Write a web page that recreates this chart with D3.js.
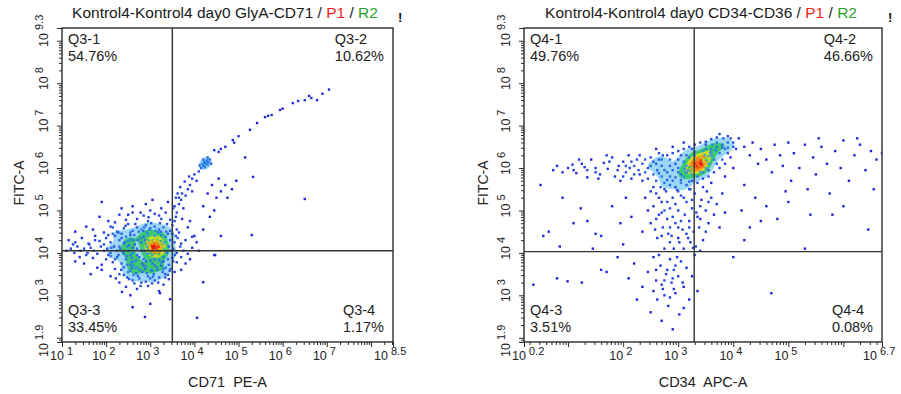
<!DOCTYPE html>
<html><head><meta charset="utf-8">
<script src="https://cdn.jsdelivr.net/npm/d3@7"></script>
<style>
body{margin:0;background:#fff;}
svg{display:block;font-family:"Liberation Sans",Arial,Helvetica,sans-serif;}
</style>
</head><body>
<svg id="c" width="901" height="394"></svg>
<script>
// ---------- DATA (all event coordinates are log10 values) ----------
const titlesMain = ["Kontrol4-Kontrol4 day0 GlyA-CD71", "Kontrol4-Kontrol4 day0 CD34-CD36"];
const gateNames = ["P1", "R2"];
const xAxisTitles = ["CD71  PE-A", "CD34  APC-A"];
const yAxisTitle = "FITC-A";

const xTicksLeft = [1, 2, 3, 4, 5, 6, 7, 8.5];
const xTicksRight = [0.2, 2, 3, 4, 5, 6.7];
const yTicks = [1.9, 3, 4, 5, 6, 7, 8, 9.3];
const xDomainLeft = [1, 8.5];
const xDomainRight = [0.2, 6.7];
const yDomain = [1.9, 9.3];

const q3Names = ["Q3-1", "Q3-2", "Q3-3", "Q3-4"];
const q3Percents = ["54.76%", "10.62%", "33.45%", "1.17%"];
const q4Names = ["Q4-1", "Q4-2", "Q4-3", "Q4-4"];
const q4Percents = ["49.76%", "46.66%", "3.51%", "0.08%"];

const q3Gate = [3.5, 4.05];   // [CD71, FITC] quadrant split
const q4Gate = [3.29, 4.03];  // [CD34, FITC] quadrant split

// GlyA-CD71 events: [CD71 PE-A, FITC-A]
const cd71Events = [
[3.0,4.1],[3.05,4.15],[3.1,4.12],[3.15,4.18],[3.2,4.1],[3.08,4.05],[3.12,4.22],[2.98,4.18],[3.18,4.25],[3.25,4.15],[3.02,4.25],[3.22,4.05],[2.95,4.08],[3.28,4.2],[3.06,4.3],[3.14,4.02],[2.92,4.15],[3.3,4.1],[3.1,3.98],[3.0,4.0],[3.16,4.32],[2.9,4.22],[3.24,4.28],[3.04,3.95],[3.2,3.97],[2.88,4.05],[3.32,4.25],[2.96,4.3],[3.12,4.08],[3.06,4.2],[3.18,4.14],[3.0,4.12],[3.26,4.08],[2.94,3.98],[3.1,4.28],[3.14,4.1],[3.08,4.16],[3.22,4.2],
[2.6,4.0],[2.7,4.1],[2.75,3.9],[2.8,4.25],[2.65,4.2],[2.85,3.85],[2.7,3.95],[2.78,4.35],[2.9,3.8],[3.0,3.82],[3.1,3.85],[3.2,3.83],[3.3,3.9],[3.38,4.0],[3.42,4.15],[3.45,4.3],[3.35,4.38],[3.25,4.42],[3.1,4.4],[2.95,4.42],[2.85,4.38],[2.72,4.3],[2.6,4.12],[2.55,3.95],[2.68,3.82],[2.82,3.75],[3.05,3.75],[3.25,3.78],[3.4,3.85],[3.48,4.05],[2.62,4.3],[2.92,4.48],[3.18,4.48],[3.4,4.45],[2.5,4.05],[2.58,3.88],[2.8,4.05],[2.88,4.3],[3.35,4.05],[3.3,3.8],
[1.3,4.5],[1.7,4.55],[1.95,4.48],[2.1,4.62],[2.25,4.5],[2.4,4.58],[2.5,4.68],[2.6,4.52],[2.7,4.6],[2.8,4.55],[2.9,4.65],[3.0,4.58],[3.1,4.62],[3.2,4.55],[3.3,4.6],[3.45,4.52],[3.5,4.65],[3.6,4.55],[2.35,4.45],[2.55,4.48],[3.38,4.68],[2.15,4.45],[1.55,4.62],[3.65,4.48],
[1.85,4.85],[2.05,4.75],[2.3,4.9],[2.45,4.78],[2.6,4.95],[2.7,4.8],[2.85,4.88],[2.95,4.75],[3.1,4.92],[3.25,4.8],[3.35,4.95],[3.45,4.78],[3.58,4.85],[3.72,4.8],[3.9,4.75],[2.2,4.72],[3.0,5.0],
[2.35,5.05],[2.6,5.1],[2.9,5.15],[3.25,5.05],[3.4,5.2],[3.55,5.1],[3.65,5.3],[1.9,5.2],[3.05,5.25],
[1.15,4.3],[1.3,4.25],[1.45,4.35],[1.6,4.22],[1.75,4.4],[1.85,4.28],[2.0,4.35],[2.1,4.25],[2.2,4.4],[2.3,4.3],[2.4,4.22],[2.45,4.38],[2.5,4.28],[3.55,4.25],[3.62,4.35],[3.7,4.22],[3.8,4.3],[3.95,4.38],[2.35,4.35],[2.05,4.42],[1.95,4.2],[2.55,4.42],
[1.1,4.05],[1.2,4.1],[1.28,4.0],[1.35,4.15],[1.42,4.05],[1.5,4.1],[1.58,4.0],[1.65,4.12],[1.72,4.05],[1.8,3.98],[1.88,4.15],[1.95,4.05],[2.02,4.1],[2.1,4.0],[2.18,4.15],[2.25,4.05],[2.32,4.1],[2.4,3.98],[2.48,4.15],[2.52,4.05],[3.52,4.1],[3.6,4.0],[3.68,4.15],[3.75,4.05],[3.85,3.98],[3.95,4.12],[4.1,4.05],[4.45,3.95],[1.62,4.2],[2.28,3.95],
[1.3,3.8],[1.5,3.75],[1.7,3.88],[1.9,3.72],[2.0,3.85],[2.15,3.78],[2.25,3.9],[2.35,3.75],[2.45,3.85],[2.55,3.72],[2.62,3.8],[3.42,3.72],[3.5,3.88],[3.6,3.78],[3.7,3.9],[3.8,3.75],[3.9,3.85],[2.1,3.92],[1.4,3.9],
[1.65,3.5],[1.9,3.6],[2.1,3.45],[2.2,3.62],[2.3,3.5],[2.4,3.66],[2.48,3.42],[2.55,3.58],[2.62,3.48],[2.7,3.65],[2.75,3.4],[2.82,3.55],[2.9,3.68],[2.95,3.45],[3.02,3.6],[3.08,3.5],[3.15,3.66],[3.2,3.42],[3.28,3.55],[3.35,3.65],[3.4,3.48],[3.55,3.55],[3.7,3.6],[2.6,3.7],[2.85,3.7],[3.1,3.7],[3.25,3.7],[2.68,3.52],[3.0,3.4],[2.5,3.55],
[2.3,3.3],[2.45,3.2],[2.6,3.35],[2.7,3.15],[2.8,3.3],[2.95,3.22],[3.1,3.35],[3.2,3.1],[3.3,3.25],[3.42,3.38],[2.36,3.08],[3.22,3.05],[2.55,3.0],
[2.6,2.72],[2.88,2.49],[3.45,2.91],[3.0,2.8],[4.06,2.47],[4.2,3.31],
[4.0,4.4],[4.2,4.55],[3.85,4.6],[4.05,4.25],[4.47,3.95],
[2.3,4.15],[2.38,4.02],[2.42,4.25],[2.46,3.92],[2.52,4.18],[2.56,4.32],[2.58,3.78],[2.64,4.42],[2.66,3.65],[2.74,4.5],[2.76,3.6],[2.84,4.52],[2.88,3.62],[2.98,4.55],[3.04,3.58],[3.12,4.52],[3.16,3.6],[3.24,4.5],[3.3,3.62],[3.36,4.5],[3.46,3.62],[3.52,3.8],[3.56,3.95],[3.58,4.4],[3.5,4.45],[2.2,3.85],[2.28,4.48],[2.12,4.12],[2.05,3.95],[2.4,3.48],[2.52,3.38],[2.64,3.28],[2.78,3.22],[2.9,3.32],[3.04,3.28],[3.18,3.3],[3.34,3.42],[2.92,3.52],[3.06,3.44],[2.72,3.46],[2.58,3.64],[2.48,3.72],[3.34,3.5],[3.44,3.58],[2.34,3.6],[2.22,3.4],[1.8,3.65],[1.55,3.95],[1.75,4.3],[1.25,4.2],[2.86,4.6],[2.66,4.68],[3.02,4.7],[3.22,4.7],[2.44,4.64],[2.96,4.84],[2.78,4.95],[3.2,4.88],[2.5,4.9],[2.15,4.6],
[3.55,4.75],[3.6,4.95],[3.52,5.05],[3.65,5.15],[3.58,5.3],[3.7,5.25],[3.72,5.4],[3.8,5.35],[3.68,5.55],[3.85,5.5],[3.9,5.6],[3.78,5.68],[3.95,5.75],[4.0,5.85],[4.05,5.7],[3.88,5.8],[4.1,5.92],[3.62,5.4],[3.75,5.05],[3.95,5.45],
[4.15,6.0],[4.2,6.05],[4.25,6.1],[4.3,6.08],[4.22,6.15],[4.28,6.18],[4.18,6.1],[4.32,6.14],[4.24,6.02],[4.35,6.2],[4.12,6.06],[4.27,6.12],[4.2,6.2],[4.38,6.1],[4.3,6.25],
[4.2,5.1],[4.35,4.85],[4.45,5.0],[4.5,5.3],[4.6,5.45],[4.7,5.6],[4.85,5.5],[4.95,5.7],[4.4,5.6],[4.55,5.75],[4.3,5.4],[4.75,5.3],
[4.45,6.42],[4.55,6.38],[4.6,6.45],[4.7,6.5],[4.87,6.66],[4.9,6.6],[5.0,6.75],[5.26,6.9],[5.42,7.06],[5.6,7.2],[5.67,7.23],[5.75,7.25],[5.94,7.37],[6.0,7.4],[6.23,7.53],[6.35,7.58],[6.5,7.6],[6.65,7.65],[6.78,7.6],[6.9,7.75],[7.05,7.85],[6.6,7.7],
[6.5,5.27],[5.33,5.79],[5.3,4.42],[5.15,6.25],[4.6,4.4]
];

// CD34-CD36 events: [CD34 APC-A, FITC-A]
const cd34Events = [
[3.3,6.05],[3.35,6.1],[3.4,6.15],[3.45,6.2],[3.25,6.0],[3.38,6.05],[3.32,6.15],[3.42,6.1],[3.5,6.22],[3.2,6.02],[3.28,6.08],[3.36,6.18],[3.46,6.14],[3.3,5.98],[3.4,6.25],[3.55,6.28],[3.18,5.95],[3.34,6.02],[3.48,6.3],[3.26,6.12],[3.6,6.3],[3.15,6.05],[3.44,6.05],[3.52,6.18],[3.38,6.22],[3.22,5.92],[3.36,5.98],[3.58,6.36],[3.12,5.98],[3.3,6.2],
[2.8,5.9],[2.9,5.95],[3.0,6.0],[3.05,5.85],[2.95,6.1],[3.1,6.15],[3.2,6.25],[3.3,6.3],[3.45,6.4],[3.6,6.45],[3.7,6.5],[3.8,6.55],[3.9,6.6],[3.65,6.2],[3.75,6.35],[3.85,6.45],[3.55,6.1],[3.5,6.0],[3.4,5.9],[3.25,5.85],[3.1,5.8],[2.95,5.78],[2.85,5.8],[2.75,5.95],[2.7,6.05],[2.85,6.05],[3.0,6.2],[3.15,6.3],[3.3,6.38],[3.5,6.45],[3.7,6.6],[3.95,6.7],[3.68,6.42],[3.62,6.55],[3.8,6.48],[2.65,5.88],[3.0,5.9],[3.15,5.9],[3.6,6.38],
[2.4,5.9],[2.5,6.05],[2.45,5.75],[2.55,6.15],[2.6,5.7],[2.62,5.95],[2.7,6.2],[2.75,5.65],[2.8,6.3],[2.85,5.6],[2.9,6.35],[2.95,5.55],[3.0,6.4],[3.05,5.65],[3.1,6.45],[3.15,5.6],[3.2,6.5],[3.25,5.7],[3.3,6.55],[3.35,5.65],[3.4,6.6],[3.45,5.75],[3.5,6.62],[3.55,5.8],[3.6,6.68],[3.65,5.9],[3.7,6.72],[3.75,6.0],[3.82,6.7],[3.85,6.1],[3.9,6.75],[3.95,6.25],[4.0,6.6],[4.05,6.45],[3.75,6.8],[2.35,6.1],[2.5,6.25],[2.65,6.35],[2.75,5.5],[3.0,5.45],[3.2,5.5],[3.45,5.55],[2.3,5.85],[2.55,5.55],[3.6,5.65],[3.85,5.8],[4.0,6.0],[3.1,6.6],[2.9,6.5],[2.6,6.45],
[2.45,6.0],[2.55,5.85],[2.6,6.1],[2.7,5.8],[2.72,6.3],[2.8,5.72],[2.9,5.7],[3.05,5.72],[3.2,5.68],[3.35,5.8],[3.45,5.9],[3.55,5.95],[3.7,6.1],[3.8,6.2],[3.9,6.35],[4.0,6.5],[3.9,6.48],[3.5,6.55],[3.25,6.45],[3.05,6.3],[2.85,6.2],[2.65,6.2],[2.4,6.2],
[0.73,5.95],[0.8,6.05],[0.9,5.9],[1.0,6.0],[1.08,6.08],[1.15,5.88],[1.25,6.1],[1.35,5.95],[1.42,6.2],[1.5,6.0],[1.58,5.85],[1.65,6.12],[1.72,5.98],[1.8,6.25],[1.85,5.8],[1.92,6.05],[2.0,6.15],[2.05,5.9],[2.1,6.3],[2.15,5.75],[2.2,6.05],[2.25,6.2],[2.28,5.95],[1.95,5.7],[1.7,6.3],[1.2,6.2],[2.12,6.0],[1.55,5.75],[2.3,6.3],[1.35,5.78],
[1.5,5.9],[1.75,6.15],[1.9,5.95],[2.05,6.05],[2.2,5.85],[1.3,6.02],[1.1,5.95],[2.15,6.15],[2.0,5.8],
[2.4,5.3],[2.55,5.1],[2.6,5.4],[2.65,4.9],[2.7,5.2],[2.72,4.6],[2.78,5.45],[2.8,4.8],[2.85,5.05],[2.88,4.4],[2.9,5.3],[2.95,4.7],[3.0,5.0],[3.02,4.25],[3.05,5.35],[3.08,4.55],[3.12,4.9],[3.15,5.2],[3.18,4.35],[3.2,4.75],[3.25,5.05],[3.28,4.5],[3.3,5.4],[3.32,4.15],[3.35,4.85],[3.38,4.6],[3.42,5.25],[3.45,4.3],[3.5,5.0],[3.55,4.7],[3.6,5.3],[3.65,4.9],[3.7,5.15],[3.75,4.6],[3.8,5.4],[3.85,4.95],[2.5,4.7],[2.45,5.0],[2.35,4.5],[2.62,4.35],[2.75,4.1],[2.92,4.1],[3.1,4.1],[3.27,4.12],[2.98,5.48],[3.22,5.5],[2.68,5.55],[3.52,5.45],[2.82,4.45],[3.0,4.6],[3.15,4.45],[3.4,4.05],[2.58,4.55],[2.7,4.95],[3.33,4.95],
[2.35,5.7],[2.5,5.45],[2.65,5.3],[2.8,5.2],[2.95,5.15],[3.1,5.3],[3.25,5.25],[3.4,5.1],[3.55,5.2],[2.75,5.0],[2.9,4.85],[3.05,4.75],[3.2,4.6],[3.4,4.8],[3.5,4.5],[2.85,4.6],[2.6,4.8],[2.7,4.4],[3.0,4.35],[3.22,4.25],[2.85,4.25],
[1.6,3.6],[1.9,3.9],[2.1,3.4],[2.2,3.75],[2.35,3.2],[2.45,3.55],[2.55,3.9],[2.6,3.35],[2.62,2.9],[2.68,3.7],[2.72,3.15],[2.78,3.5],[2.82,2.75],[2.85,3.85],[2.88,3.3],[2.92,3.6],[2.95,3.05],[3.0,3.45],[3.02,2.55],[3.05,3.8],[3.1,3.2],[3.15,3.65],[3.2,2.9],[3.25,3.45],[3.3,3.95],[2.7,2.4],[2.9,2.2],[2.5,2.6],[3.1,2.7],[2.25,2.9],[2.65,3.95],[2.75,3.35],[2.98,3.9],[2.55,3.1],[3.35,3.1],
[2.95,3.7],[2.8,3.6],[2.7,3.25],[2.6,3.6],[2.9,3.4],[3.08,3.3],[2.75,3.0],[2.85,2.95],[2.92,3.15],
[4.1,6.7],[4.2,6.5],[4.3,6.3],[4.35,6.6],[4.45,6.1],[4.5,6.45],[4.6,6.2],[4.7,5.9],[4.75,6.55],[4.85,6.3],[4.9,6.05],[5.0,6.6],[5.05,5.7],[5.1,6.35],[5.2,6.0],[5.3,6.55],[5.35,5.5],[5.45,6.25],[5.5,5.85],[5.6,6.5],[5.7,6.1],[5.75,5.4],[5.85,6.4],[5.95,6.0],[6.0,6.65],[6.1,5.7],[6.2,6.3],[6.3,6.55],[6.4,5.95],[6.5,6.4],[6.6,6.2],[6.7,6.35],[4.2,5.6],[4.4,5.3],[4.6,5.1],[4.8,4.8],[5.0,5.2],[5.4,4.9],[4.3,4.6],[6.0,5.1],[6.45,4.55],[5.8,4.9],[4.15,5.0],[4.5,4.75],[6.55,5.5],[6.25,6.7],[4.95,5.45],[5.55,6.7],
[0.55,4.4],[0.65,4.5],[1.23,5.05],[1.35,4.75],[1.5,4.45],[1.6,4.4],[0.85,4.15],[1.45,4.1],[0.99,3.33],[0.8,3.4],[0.37,3.25],[1.25,3.3],[1.7,3.55],[0.9,5.3],[1.8,5.1],[1.95,4.7],[2.05,5.3],[2.15,4.85],[1.1,4.7],[0.5,5.6],[2.0,4.2],
[4.69,3.05],[5.3,4.1],[4.0,3.9],[4.2,4.3]
];

// ---------- LAYOUT ----------
const svg = d3.select("#c");
const panels = [
  {x0:62, x1:393, y0:28, y1:342, xDom:xDomainLeft, xTicks:xTicksLeft, events:cd71Events, gate:q3Gate,
   names:q3Names, pcts:q3Percents, title:titlesMain[0], xTitle:xAxisTitles[0], titleX:225, bang:398, yTitleX:24, yLabX:47.5},
  {x0:524, x1:882, y0:28, y1:342, xDom:xDomainRight, xTicks:xTicksRight, events:cd34Events, gate:q4Gate,
   names:q4Names, pcts:q4Percents, title:titlesMain[1], xTitle:xAxisTitles[1], titleX:701, bang:888, yTitleX:488, yLabX:510}
];
const jet = d3.scaleLinear()
  .domain([0, 0.55, 0.7, 0.8, 0.9, 1])
  .range(["#2020d8", "#3090f0", "#2fc765", "#dcdc1e", "#ff8a14", "#e41c1c"]).clamp(true);

function textWidth(str, size){
  const t = svg.append("text").attr("font-size", size).text(str);
  const w = t.node().getComputedTextLength(); t.remove(); return w;
}
const TICK_FS = 12.5, SUP_FS = 11;
const w10 = textWidth("10", TICK_FS);

panels.forEach((P, pi) => {
  const g = svg.append("g");
  const x = d3.scaleLog().domain(P.xDom.map(e => 10 ** e)).range([P.x0, P.x1]);
  const y = d3.scaleLog().domain(yDomain.map(e => 10 ** e)).range([P.y1, P.y0]);

  const clipId = "clip" + pi;
  svg.append("clipPath").attr("id", clipId).append("rect")
    .attr("x", P.x0).attr("y", P.y0).attr("width", P.x1 - P.x0).attr("height", P.y1 - P.y0);

  const pts = P.events.map(d => ({px: x(10 ** d[0]), py: y(10 ** d[1])}));
  const R2 = 9 * 9;
  pts.forEach(p => { p.n = pts.reduce((s, q) => s + (((p.px - q.px) ** 2 + (p.py - q.py) ** 2) < R2 ? 1 : 0), 0); });
  const maxN = d3.max(pts, p => p.n);
  pts.sort((a, b) => a.n - b.n);

  // density contours for the populated core
  const dens = () => d3.contourDensity().x(p => p.px).y(p => p.py).size([901, 394]).bandwidth(5).cellSize(2);
  const maxV = d3.max(dens().thresholds(60)(pts), c => c.value);
  const levels = [0.34, 0.47, 0.61, 0.75, 0.89];
  const lvlColors = ["#3cb0ee", "#34c864", "#dcdc22", "#ff8c16", "#e42020"];
  const contours = dens().thresholds(levels.map(l => l * maxV))(pts);
  const cg = g.append("g").attr("clip-path", `url(#${clipId})`);
  cg.selectAll("path.ct").data(contours).join("path")
    .attr("d", d3.geoPath()).attr("fill", (c, i) => lvlColors[i]).attr("opacity", (c, i) => i === 0 ? 0.5 : 0.92);

  cg.selectAll("rect.ev").data(pts).join("rect")
    .attr("x", p => p.px - 1.2).attr("y", p => p.py - 1.2).attr("width", 2.4).attr("height", 2.4)
    .attr("fill", p => jet((p.n - 1) / (maxN - 1)));

  g.append("rect").attr("x", P.x0).attr("y", P.y0).attr("width", P.x1 - P.x0).attr("height", P.y1 - P.y0)
    .attr("fill", "none").attr("stroke", "#2b2b2b").attr("stroke-width", 1.4);

  const majX = d3.range(Math.ceil(P.xDom[0]), Math.floor(P.xDom[1]) + 1).map(e => 10 ** e).concat([10 ** P.xDom[0], 10 ** P.xDom[1]]);
  const minX = [];
  for (let e = Math.floor(P.xDom[0]); e <= Math.ceil(P.xDom[1]); e++) for (let m = 2; m <= 9; m++) { const v = m * 10 ** e; if (v > 10 ** P.xDom[0] && v < 10 ** P.xDom[1]) minX.push(v); }
  const majY = d3.range(Math.ceil(yDomain[0]), Math.floor(yDomain[1]) + 1).map(e => 10 ** e).concat([10 ** yDomain[0], 10 ** yDomain[1]]);
  const minY = [];
  for (let e = Math.floor(yDomain[0]); e <= Math.ceil(yDomain[1]); e++) for (let m = 2; m <= 9; m++) { const v = m * 10 ** e; if (v > 10 ** yDomain[0] && v < 10 ** yDomain[1]) minY.push(v); }

  const axStyle = sel => { sel.select(".domain").remove(); sel.selectAll("line").attr("stroke", "#2b2b2b").attr("stroke-width", 1); };
  g.append("g").attr("transform", `translate(0,${P.y1})`).call(d3.axisBottom(x).tickValues(majX).tickSize(5).tickFormat("")).call(axStyle);
  g.append("g").attr("transform", `translate(0,${P.y1})`).call(d3.axisBottom(x).tickValues(minX).tickSize(3).tickFormat("")).call(axStyle);
  g.append("g").attr("transform", `translate(${P.x0},0)`).call(d3.axisLeft(y).tickValues(majY).tickSize(5).tickFormat("")).call(axStyle);
  g.append("g").attr("transform", `translate(${P.x0},0)`).call(d3.axisLeft(y).tickValues(minY).tickSize(3).tickFormat("")).call(axStyle);

  P.xTicks.forEach((e, i) => {
    const tx = x(10 ** e);
    let sx = tx - w10;
    if (i === 0) sx = tx - w10 + 2;
    if (i === P.xTicks.length - 1) sx = tx - w10 - 5;
    const t = g.append("text").attr("x", sx).attr("y", 360).attr("font-size", TICK_FS).attr("fill", "#222");
    t.append("tspan").text("10");
    t.append("tspan").attr("dx", 3).attr("dy", -5).attr("font-size", SUP_FS).text(String(e));
  });
  yTicks.forEach((e, i) => {
    let ty = y(10 ** e);
    if (i === 0) ty += 8;
    if (i === yTicks.length - 1) ty += 12;
    const t = g.append("text").attr("transform", `translate(${P.yLabX},${ty}) rotate(-90)`)
      .attr("x", -w10 / 2).attr("y", 0).attr("font-size", TICK_FS).attr("fill", "#222");
    t.append("tspan").text("10");
    t.append("tspan").attr("dx", 3).attr("dy", -5).attr("font-size", SUP_FS).text(String(e));
  });

  const gx = x(10 ** P.gate[0]), gy = y(10 ** P.gate[1]);
  g.append("line").attr("x1", gx).attr("x2", gx).attr("y1", P.y0).attr("y2", P.y1).attr("stroke", "#333").attr("stroke-width", 1.4);
  g.append("line").attr("x1", P.x0).attr("x2", P.x1).attr("y1", gy).attr("y2", gy).attr("stroke", "#333").attr("stroke-width", 1.4);

  const QFS = 14.5;
  const quad = (i, left, top) => {
    const w = Math.max(textWidth(P.names[i], QFS), textWidth(P.pcts[i], QFS));
    const lx = left ? P.x0 + 6 : P.x1 - 9 - w;
    const b1 = top ? 44 : 315, b2 = top ? 60.5 : 331.5;
    g.append("text").attr("x", lx).attr("y", b1).attr("font-size", QFS).attr("fill", "#222").text(P.names[i]);
    g.append("text").attr("x", lx).attr("y", b2).attr("font-size", QFS).attr("fill", "#222").text(P.pcts[i]);
  };
  quad(0, true, true); quad(1, false, true); quad(2, true, false); quad(3, false, false);

  const tt = g.append("text").attr("x", P.titleX).attr("y", 18).attr("text-anchor", "middle").attr("font-size", 15.5).attr("fill", "#1a1a1a");
  tt.append("tspan").text(P.title + " / ");
  tt.append("tspan").attr("fill", "#ee1c24").text(gateNames[0]);
  tt.append("tspan").text(" / ");
  tt.append("tspan").attr("fill", "#2ca02c").text(gateNames[1]);
  g.append("text").attr("x", P.bang).attr("y", 22).attr("font-size", 13).attr("font-weight", "bold").attr("fill", "#111").text("!");

  g.append("text").attr("x", (P.x0 + P.x1) / 2).attr("y", 387).attr("text-anchor", "middle").attr("font-size", 14.5)
    .attr("fill", "#222").style("white-space", "pre").text(P.xTitle);
  g.append("text").attr("transform", `translate(${P.yTitleX},183) rotate(-90)`).attr("text-anchor", "middle")
    .attr("font-size", 14).attr("fill", "#222").text(yAxisTitle);
});
</script>
</body></html>
